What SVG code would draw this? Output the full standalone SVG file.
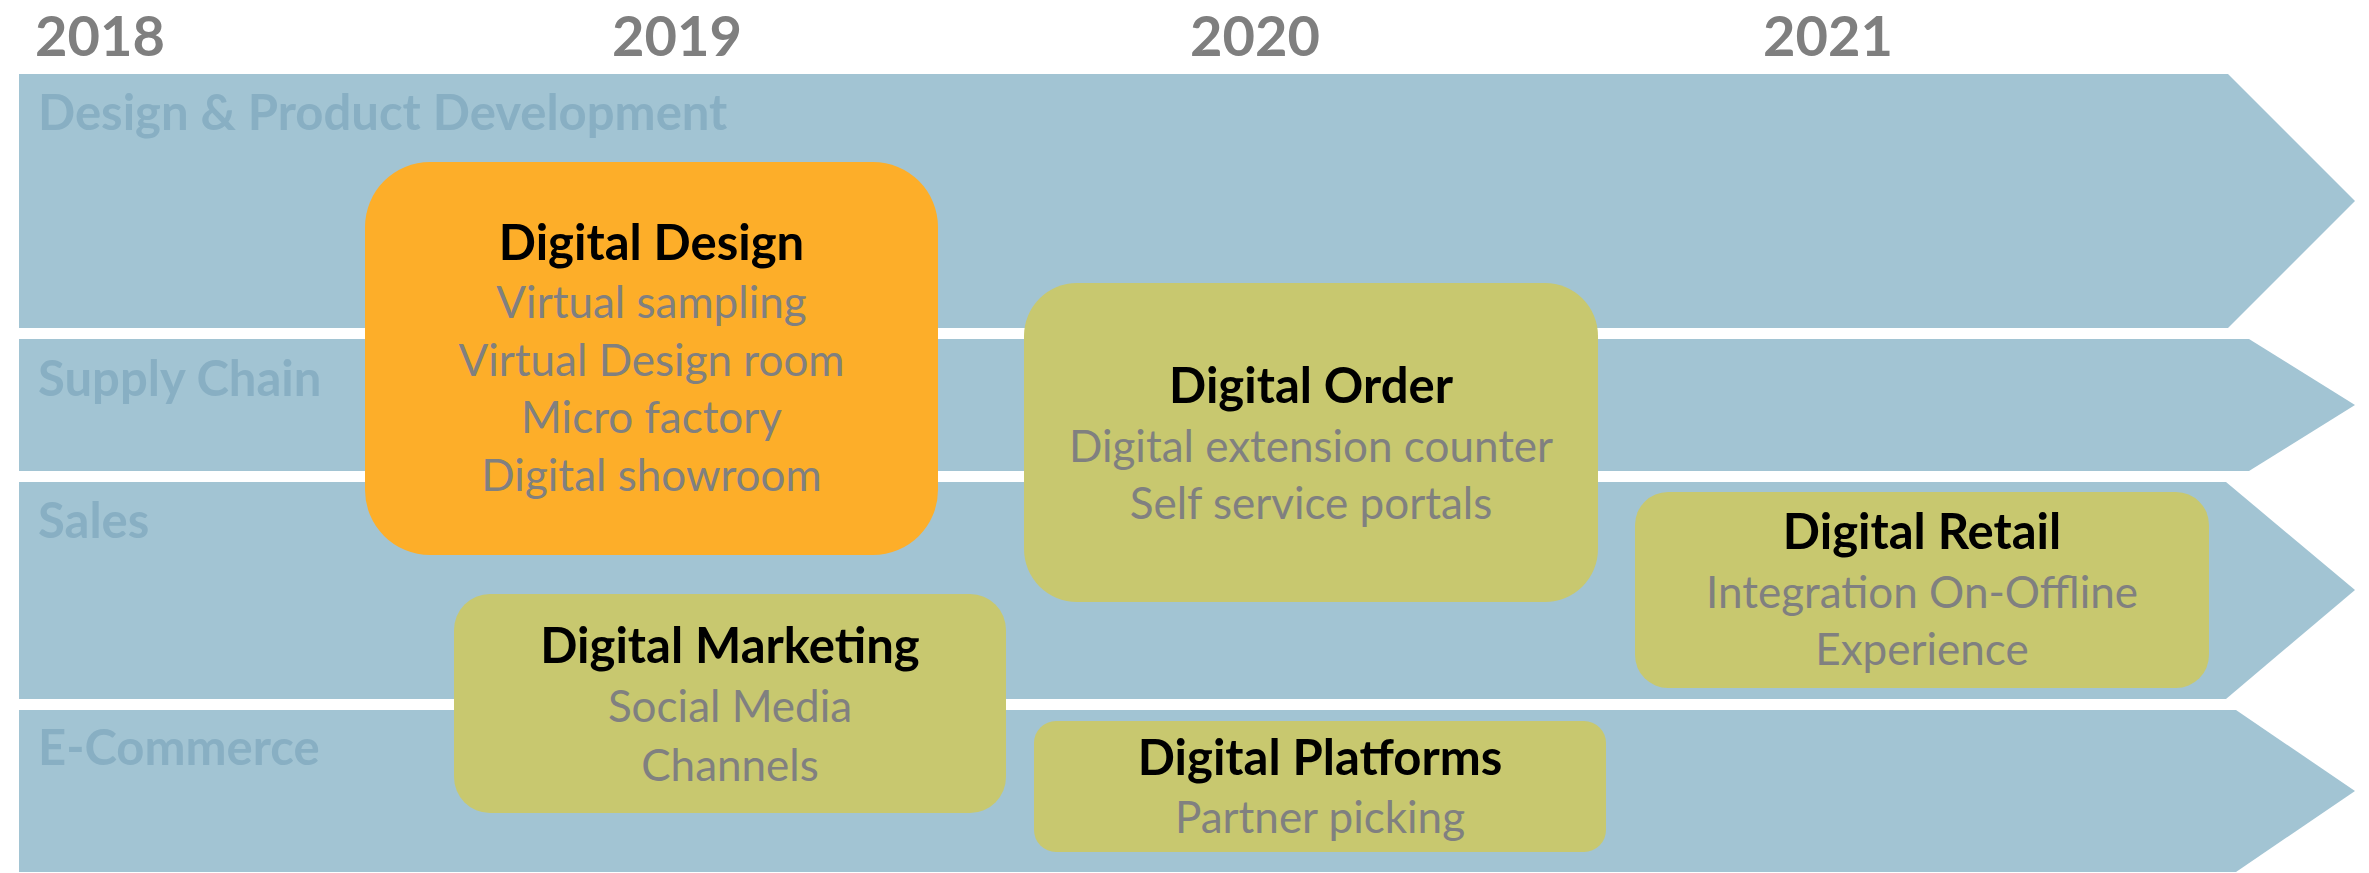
<svg xmlns="http://www.w3.org/2000/svg" width="2369" height="873" viewBox="0 0 2369 873">
<style>
.band{fill:#A2C4D3}
.lane{font-family:Lato,"Liberation Sans",sans-serif;font-weight:700;font-size:49px;fill:#88AFC3}
.year{font-family:Lato,"Liberation Sans",sans-serif;font-weight:700;font-size:56px;fill:#7F7F7F;text-anchor:middle}
.box-o{fill:#FDAE29}
.box-g{fill:#C8C86F}
.title{font-family:Lato,"Liberation Sans",sans-serif;font-weight:700;font-size:49px;fill:#000;text-anchor:middle}
.sub{font-family:Lato,"Liberation Sans",sans-serif;font-size:44px;fill:#808080;text-anchor:middle}
</style>
<rect width="2369" height="873" fill="#fff"/>
<g id="years">
<text class="year" x="100" y="56">2018</text>
<text class="year" x="677" y="56">2019</text>
<text class="year" x="1255" y="56">2020</text>
<text class="year" x="1828" y="56">2021</text>
</g>
<g id="lanes">
<g id="lane-design">
<polygon class="band" points="19,74 2228,74 2355,201 2228,328 19,328"/>
<text class="lane" x="38" y="130">Design &amp; Product Development</text>
</g>
<g id="lane-supply">
<polygon class="band" points="19,339 2249,339 2355,405 2249,471 19,471"/>
<text class="lane" x="38" y="396">Supply Chain</text>
</g>
<g id="lane-sales">
<polygon class="band" points="19,482 2226,482 2355,590 2226,699 19,699"/>
<text class="lane" x="38" y="538">Sales</text>
</g>
<g id="lane-ecommerce">
<polygon class="band" points="19,710 2236,710 2355,791 2236,872 19,872"/>
<text class="lane" x="38" y="765">E-Commerce</text>
</g>
</g>
<g id="connectors"/>
<g id="digital-design">
<rect class="box-o" x="365" y="162" width="573" height="393" rx="65" ry="65"/>
<text class="title" x="651.5" y="260">Digital Design</text>
<text class="sub" x="651.5" y="318">Virtual sampling</text>
<text class="sub" x="651.5" y="376">Virtual Design room</text>
<text class="sub" x="651.5" y="433">Micro factory</text>
<text class="sub" x="651.5" y="491">Digital showroom</text>
</g>
<g id="digital-order">
<rect class="box-g" x="1024" y="283" width="574" height="319" rx="53" ry="53"/>
<text class="title" x="1311" y="403">Digital Order</text>
<text class="sub" x="1311" y="462">Digital extension counter</text>
<text class="sub" x="1311" y="519">Self service portals</text>
</g>
<g id="digital-marketing">
<rect class="box-g" x="454" y="594" width="552" height="219" rx="36" ry="36"/>
<text class="title" x="730" y="663">Digital Marketing</text>
<text class="sub" x="730" y="722">Social Media</text>
<text class="sub" x="730" y="781">Channels</text>
</g>
<g id="digital-platforms">
<rect class="box-g" x="1034" y="721" width="572" height="131" rx="22" ry="22"/>
<text class="title" x="1320" y="775">Digital Platforms</text>
<text class="sub" x="1320" y="833">Partner picking</text>
</g>
<g id="digital-retail">
<rect class="box-g" x="1635" y="492" width="574" height="196" rx="33" ry="33"/>
<text class="title" x="1922" y="549">Digital Retail</text>
<text class="sub" x="1922" y="608">Integration On-Offline</text>
<text class="sub" x="1922" y="665">Experience</text>
</g>
</svg>
